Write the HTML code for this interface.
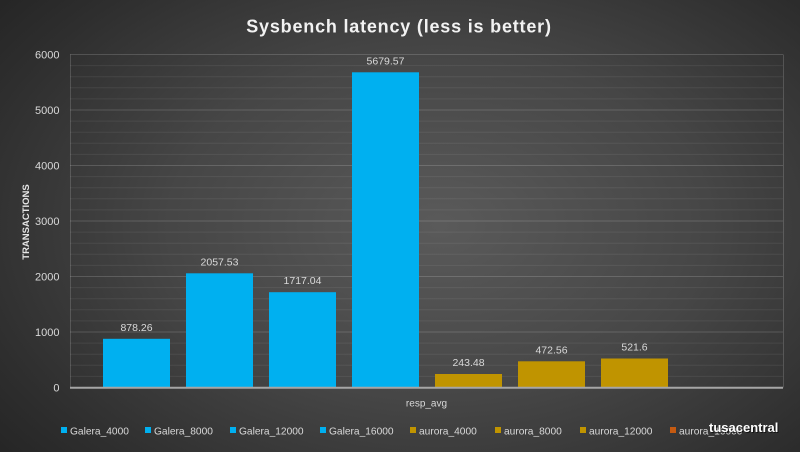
<!DOCTYPE html>
<html>
<head>
<meta charset="utf-8">
<style>
html,body{margin:0;padding:0;}
body{width:800px;height:452px;overflow:hidden;background:#2a2a2a;}
.wrap{position:relative;width:800px;height:452px;background:radial-gradient(ellipse 75% 85% at 55% 50%, #5a5a5a 0%, #464646 45%, #2e2e2e 80%, #222 100%);}
svg{position:absolute;left:0;top:0;}
text{font-family:"Liberation Sans",sans-serif;}
</style>
</head>
<body>
<div class="wrap">
<svg width="800" height="452" viewBox="0 0 800 452" xmlns="http://www.w3.org/2000/svg">
  <!-- title -->
  <text x="399" y="32.5" text-anchor="middle" font-size="18" font-weight="bold" fill="#f2f2f2" letter-spacing="0.8">Sysbench latency (less is better)</text>

  <!-- minor gridlines -->
  <g stroke="#ffffff" stroke-opacity="0.07" stroke-width="1">
    <line x1="70" x2="783" y1="376.4" y2="376.4"/>
    <line x1="70" x2="783" y1="365.3" y2="365.3"/>
    <line x1="70" x2="783" y1="354.2" y2="354.2"/>
    <line x1="70" x2="783" y1="343.1" y2="343.1"/>
    <line x1="70" x2="783" y1="320.9" y2="320.9"/>
    <line x1="70" x2="783" y1="309.8" y2="309.8"/>
    <line x1="70" x2="783" y1="298.7" y2="298.7"/>
    <line x1="70" x2="783" y1="287.6" y2="287.6"/>
    <line x1="70" x2="783" y1="265.4" y2="265.4"/>
    <line x1="70" x2="783" y1="254.3" y2="254.3"/>
    <line x1="70" x2="783" y1="243.2" y2="243.2"/>
    <line x1="70" x2="783" y1="232.1" y2="232.1"/>
    <line x1="70" x2="783" y1="209.9" y2="209.9"/>
    <line x1="70" x2="783" y1="198.8" y2="198.8"/>
    <line x1="70" x2="783" y1="187.7" y2="187.7"/>
    <line x1="70" x2="783" y1="176.6" y2="176.6"/>
    <line x1="70" x2="783" y1="154.4" y2="154.4"/>
    <line x1="70" x2="783" y1="143.3" y2="143.3"/>
    <line x1="70" x2="783" y1="132.2" y2="132.2"/>
    <line x1="70" x2="783" y1="121.1" y2="121.1"/>
    <line x1="70" x2="783" y1="98.9" y2="98.9"/>
    <line x1="70" x2="783" y1="87.8" y2="87.8"/>
    <line x1="70" x2="783" y1="76.7" y2="76.7"/>
    <line x1="70" x2="783" y1="65.6" y2="65.6"/>
  </g>
  <!-- major gridlines -->
  <g stroke="#ffffff" stroke-opacity="0.16" stroke-width="1">
    <line x1="70" x2="783" y1="332" y2="332"/>
    <line x1="70" x2="783" y1="276.5" y2="276.5"/>
    <line x1="70" x2="783" y1="221" y2="221"/>
    <line x1="70" x2="783" y1="165.5" y2="165.5"/>
    <line x1="70" x2="783" y1="110" y2="110"/>
    <line x1="70" x2="783" y1="54.5" y2="54.5"/>
  </g>
  <!-- plot border -->
  <line x1="70.5" x2="70.5" y1="54.5" y2="387.5" stroke="#ffffff" stroke-opacity="0.16"/>
  <line x1="783.5" x2="783.5" y1="54.5" y2="387.5" stroke="#ffffff" stroke-opacity="0.16"/>

  <!-- y-axis labels -->
  <g font-size="11" fill="#d9d9d9" text-anchor="end">
    <text x="59.5" y="391.5">0</text>
    <text x="59.5" y="336">1000</text>
    <text x="59.5" y="280.5">2000</text>
    <text x="59.5" y="225">3000</text>
    <text x="59.5" y="169.5">4000</text>
    <text x="59.5" y="114">5000</text>
    <text x="59.5" y="58.5">6000</text>
  </g>
  <text transform="translate(29,222) rotate(-90)" text-anchor="middle" font-size="9.5" font-weight="bold" fill="#e6e6e6">TRANSACTIONS</text>

  <!-- bars -->
  <g fill="#00b0f0">
    <rect x="103" y="338.8" width="67" height="48.7"/>
    <rect x="186" y="273.3" width="67" height="114.2"/>
    <rect x="269" y="292.2" width="67" height="95.3"/>
    <rect x="352" y="72.3" width="67" height="315.2"/>
  </g>
  <g fill="#c09400">
    <rect x="435" y="374" width="67" height="13.5"/>
    <rect x="518" y="361.3" width="67" height="26.2"/>
    <rect x="601" y="358.5" width="67" height="29"/>
  </g>

  <!-- baseline -->
  <line x1="70" x2="783" y1="387.8" y2="387.8" stroke="#a6a6a6" stroke-width="2"/>

  <!-- value labels -->
  <g font-size="10.5" fill="#d9d9d9" text-anchor="middle">
    <text x="136.5" y="330.8">878.26</text>
    <text x="219.5" y="265.3">2057.53</text>
    <text x="302.5" y="284.2">1717.04</text>
    <text x="385.5" y="64.3">5679.57</text>
    <text x="468.5" y="366">243.48</text>
    <text x="551.5" y="353.3">472.56</text>
    <text x="634.5" y="350.5">521.6</text>
  </g>

  <!-- category label -->
  <text x="426.5" y="406.5" text-anchor="middle" font-size="10" fill="#d9d9d9">resp_avg</text>

  <!-- legend -->
  <g font-size="10.2" fill="#d9d9d9">
    <rect x="61" y="427" width="6" height="6" fill="#00b0f0"/><text x="70" y="434.3">Galera_4000</text>
    <rect x="145" y="427" width="6" height="6" fill="#00b0f0"/><text x="154" y="434.3">Galera_8000</text>
    <rect x="230" y="427" width="6" height="6" fill="#00b0f0"/><text x="239" y="434.3">Galera_12000</text>
    <rect x="320" y="427" width="6" height="6" fill="#00b0f0"/><text x="329" y="434.3">Galera_16000</text>
    <rect x="410" y="427" width="6" height="6" fill="#c09400"/><text x="419" y="434.3">aurora_4000</text>
    <rect x="495" y="427" width="6" height="6" fill="#c09400"/><text x="504" y="434.3">aurora_8000</text>
    <rect x="580" y="427" width="6" height="6" fill="#c09400"/><text x="589" y="434.3">aurora_12000</text>
    <rect x="670" y="427" width="6" height="6" fill="#c55a11"/><text x="679" y="434.3">aurora_16000</text>
  </g>

  <!-- watermark -->
  <text x="709" y="432" font-size="13" font-weight="bold" fill="#000" opacity="0.6" transform="translate(1,1)">tusacentral</text>
  <text x="709" y="432" font-size="13" font-weight="bold" fill="#ffffff">tusacentral</text>
</svg>
</div>
</body>
</html>
